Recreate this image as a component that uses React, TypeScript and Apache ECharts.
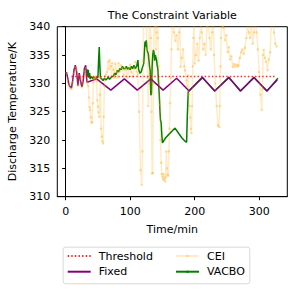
import React, { useEffect, useRef } from "react";
import * as echarts from "echarts";

const FONT = "DejaVu Sans, sans-serif";

const xTicks = [0, 100, 200, 300];
const yTicks = [310, 315, 320, 325, 330, 335, 340];

const thresholdValue = 331.2;
const thresholdTimes = [9, 326];

const fixedTimes = [1, 3, 5, 7, 9, 11, 13, 15, 17, 19, 21, 23, 25, 27, 29, 31, 33, 48, 70, 91, 111, 132, 151, 172, 191, 212, 231, 253, 271, 292, 312, 328];
const fixedValues = [332.0, 331.0, 329.8, 329.4, 329.2, 330.6, 332.4, 333.2, 332.0, 329.6, 331.8, 330.5, 329.4, 330.3, 332.6, 333.2, 330.2, 330.8, 328.8, 330.8, 328.8, 330.8, 328.8, 330.9, 328.7, 331.0, 328.7, 331.0, 328.7, 331.0, 328.7, 330.6];

const ceiTimes = [1, 3, 5, 7, 9, 11, 13, 15, 17, 19, 21, 23, 25, 27, 29, 31, 33, 34, 35, 36, 37, 38, 39, 40, 41, 42, 43, 44, 45, 46, 47, 48, 49, 50, 51, 52, 53, 54, 55, 56, 57, 58, 59, 60, 61, 62, 64, 66, 67, 68, 70, 71, 72, 74, 75, 77, 79, 80, 82, 84, 86, 88, 90, 92, 94, 96, 98, 100, 102, 104, 106, 108, 110, 112, 114, 116, 118, 119, 120, 121, 122, 124, 125, 126, 127, 128, 129, 130, 131, 132, 133, 134, 135, 136, 137, 138, 139, 140, 141, 142, 143, 144, 145, 146, 147, 148, 149, 150, 151, 152, 153, 154, 155, 156, 157, 158, 159, 160, 161, 162, 163, 164, 165, 166, 168, 170, 172, 174, 176, 177, 178, 180, 182, 184, 185, 187, 188, 190, 191, 192, 193, 194, 195, 196, 197, 198, 199, 200, 202, 204, 206, 208, 210, 211, 213, 215, 217, 219, 221, 223, 225, 227, 228, 229, 230, 232, 234, 236, 238, 239, 240, 241, 242, 244, 245, 247, 249, 251, 253, 255, 257, 259, 261, 263, 265, 267, 268, 270, 272, 274, 276, 278, 280, 282, 284, 286, 288, 290, 292, 294, 296, 298, 300, 302, 304, 305, 306, 307, 309, 311, 313, 315, 317, 319, 321, 323, 325, 327];
const ceiValues = [331.8, 330.6, 329.6, 329.2, 329.0, 330.2, 331.8, 332.9, 332.4, 329.6, 331.4, 330.8, 329.3, 330.0, 332.2, 332.8, 330.3, 330.0, 329.5, 327.5, 325.8, 325.3, 324.0, 323.2, 323.0, 326.5, 330.2, 330.8, 331.0, 330.7, 331.2, 330.4, 327.0, 325.9, 324.9, 324.1, 328.0, 331.0, 322.0, 320.6, 319.8, 319.4, 324.1, 329.5, 331.0, 331.5, 332.0, 333.8, 332.5, 334.1, 333.0, 331.2, 333.6, 332.4, 331.0, 333.5, 332.0, 331.0, 333.6, 332.1, 333.2, 332.6, 331.4, 332.8, 332.4, 331.0, 332.7, 333.3, 332.0, 331.2, 332.6, 333.8, 332.1, 331.6, 325.0, 314.7, 312.1, 318.0, 334.0, 342.0, 345.0, 341.0, 343.0, 336.0, 331.0, 326.0, 330.0, 344.0, 341.0, 338.0, 325.0, 314.1, 314.2, 330.0, 342.0, 345.0, 340.0, 336.0, 339.0, 344.0, 338.0, 333.0, 330.0, 326.2, 320.0, 316.0, 314.0, 313.5, 313.0, 314.0, 313.2, 312.7, 313.5, 318.0, 315.0, 313.9, 313.7, 318.0, 322.0, 326.5, 331.0, 336.0, 341.0, 343.0, 339.0, 337.5, 338.5, 336.0, 339.0, 341.0, 332.9, 334.5, 336.0, 333.0, 332.3, 330.5, 329.4, 331.4, 328.0, 326.0, 324.0, 322.0, 321.2, 326.0, 333.0, 338.0, 342.0, 333.5, 335.0, 337.0, 334.0, 338.0, 342.0, 339.0, 336.0, 337.0, 335.0, 340.0, 343.0, 338.0, 336.0, 339.0, 343.0, 341.0, 335.0, 330.0, 326.0, 322.6, 322.3, 326.0, 333.0, 338.0, 342.0, 340.0, 339.8, 337.6, 338.5, 335.5, 336.4, 334.2, 334.8, 332.9, 333.4, 332.9, 333.3, 333.0, 333.2, 334.5, 335.5, 336.0, 335.2, 336.3, 338.0, 340.5, 339.0, 338.0, 341.0, 337.0, 339.0, 342.0, 339.0, 336.0, 332.0, 328.0, 325.3, 329.0, 335.0, 335.9, 334.5, 333.8, 332.3, 334.2, 335.5, 340.5, 342.0, 339.0, 337.0, 336.5];

const vacboTimes = [33, 34, 35, 36, 37, 38, 40, 42, 44, 46, 48, 50, 51, 52, 53, 54, 56, 58, 60, 62, 64, 66, 68, 70, 72, 74, 76, 78, 80, 82, 84, 86, 88, 90, 92, 94, 96, 98, 100, 102, 104, 106, 108, 110, 112, 113, 115, 117, 119, 121, 122, 123, 124, 125, 126, 127, 128, 129, 130, 131, 132, 133, 134, 135, 136, 137, 138, 139, 140, 141, 142, 143, 144, 145, 146, 147, 148, 149, 150, 155, 160, 165, 169.5, 175, 180, 185, 187.5, 188.5, 190, 212, 231, 253, 271, 292, 312, 329];
const vacboValues = [332.5, 331.2, 332.4, 331.0, 331.8, 330.8, 331.2, 330.9, 331.0, 330.8, 331.2, 331.0, 334.0, 336.4, 333.0, 330.9, 330.8, 330.5, 330.9, 330.6, 330.8, 331.1, 330.7, 331.0, 331.2, 331.3, 331.8, 331.5, 332.3, 332.0, 332.6, 332.4, 333.0, 332.6, 332.6, 333.0, 332.5, 332.8, 332.4, 333.0, 332.6, 333.2, 332.6, 333.0, 334.1, 332.5, 331.8, 332.0, 332.8, 333.5, 335.5, 337.4, 336.5, 337.6, 336.0, 335.5, 335.3, 334.2, 333.0, 332.3, 327.9, 328.2, 333.0, 335.0, 335.9, 335.5, 334.0, 335.0, 334.5, 334.1, 333.0, 332.5, 330.0, 328.2, 325.5, 323.5, 323.0, 321.0, 319.5, 320.4, 321.0, 321.6, 322.1, 321.2, 320.4, 319.8, 319.6, 324.0, 328.5, 331.1, 328.6, 331.1, 328.6, 331.1, 328.6, 330.9];

const zip = (t: number[], v: number[]) => t.map((x, i) => [x, v[i]]);

export default function App() {
  const ref = useRef<HTMLDivElement>(null);
  useEffect(() => {
    if (!ref.current) return;
    const chart = echarts.init(ref.current, undefined, { renderer: "svg" });
    const axisText = { color: "#000", fontSize: 11, fontFamily: FONT };
    const legendText = { ...axisText, lineHeight: 14, padding: [0, 0, 0, 3] };
    chart.setOption({
      animation: false,
      backgroundColor: "#fff",
      textStyle: { fontFamily: FONT },
      grid: {
        left: 57.3, top: 26.7, width: 230, height: 170,
        show: true, borderColor: "#000", borderWidth: 1, backgroundColor: "transparent",
        containLabel: false, outerBoundsMode: "none",
      },
      xAxis: {
        type: "value", min: -13, max: 343.6,
        name: "Time/min", nameLocation: "middle", nameGap: 27,
        nameTextStyle: axisText,
        axisLine: { show: true, lineStyle: { color: "#000", width: 1 } },
        axisTick: { show: true, length: 3.5, lineStyle: { color: "#000" }, customValues: xTicks },
        axisLabel: { ...axisText, margin: 9, customValues: xTicks },
        splitLine: { show: false },
      },
      yAxis: {
        type: "value", min: 310, max: 340, interval: 5,
        name: "Discharge Temperature/K", nameLocation: "middle", nameGap: 34,
        nameTextStyle: axisText,
        axisLine: { show: true, lineStyle: { color: "#000", width: 1 } },
        axisTick: { show: true, length: 3.5, lineStyle: { color: "#000" } },
        axisLabel: { ...axisText, margin: 7, formatter: (v: number) => (yTicks.includes(v) ? String(v) : "") },
        splitLine: { show: false },
      },
      legend: [
        {
          data: ["Threshold", "Fixed"], orient: "vertical", left: 66.7, top: 249, padding: 0,
          itemWidth: 23, itemHeight: 3, itemGap: 1.7,
          itemStyle: { opacity: 0 },
          textStyle: legendText,
        },
        {
          data: ["CEI", "VACBO"], orient: "vertical", left: 175, top: 249, padding: 0,
          itemWidth: 23, itemHeight: 3, itemGap: 1.7,
          textStyle: legendText,
        },
      ],
      graphic: [
        {
          type: "rect", left: 62.7, top: 246.7, z: -1,
          shape: { width: 186.6, height: 36.6, r: 2.5 },
          style: { fill: "#fff", stroke: "#d4d4d4", lineWidth: 0.9 },
        },
        {
          type: "text", x: 172.3, y: 15,
          style: {
            text: "The Constraint Variable", fill: "#000", fontSize: 11, fontFamily: FONT,
            align: "center", verticalAlign: "middle", textAlign: "center", textVerticalAlign: "middle",
          },
        },
      ],
      series: [
        {
          name: "Threshold", type: "line", symbol: "none",
          data: thresholdTimes.map((t) => [t, thresholdValue]),
          lineStyle: { color: "#ff0000", width: 1.4, type: [1.4, 2.2], opacity: 0.85 },
          itemStyle: { color: "#ff0000" }, z: 5,
        },
        {
          name: "VACBO", type: "line", symbol: "none",
          data: zip(vacboTimes, vacboValues),
          lineStyle: { color: "#008000", width: 1.5 },
          itemStyle: { color: "#008000" }, z: 2,
        },
        {
          name: "Fixed", type: "line", symbol: "none",
          data: zip(fixedTimes, fixedValues),
          lineStyle: { color: "#800080", width: 1.5 },
          itemStyle: { color: "#800080" }, z: 3,
        },
        {
          name: "CEI", type: "line", symbol: "circle", symbolSize: 2.5, showSymbol: true,
          data: zip(ceiTimes, ceiValues),
          lineStyle: { color: "#ffa500", width: 1.5, opacity: 0.22 },
          itemStyle: { color: "#ffa500", opacity: 0.35 }, z: 4,
        },
      ],
    });
    return () => chart.dispose();
  }, []);
  return <div ref={ref} style={{ position: "fixed", left: 0, top: 0, width: 298, height: 293 }} />;
}
